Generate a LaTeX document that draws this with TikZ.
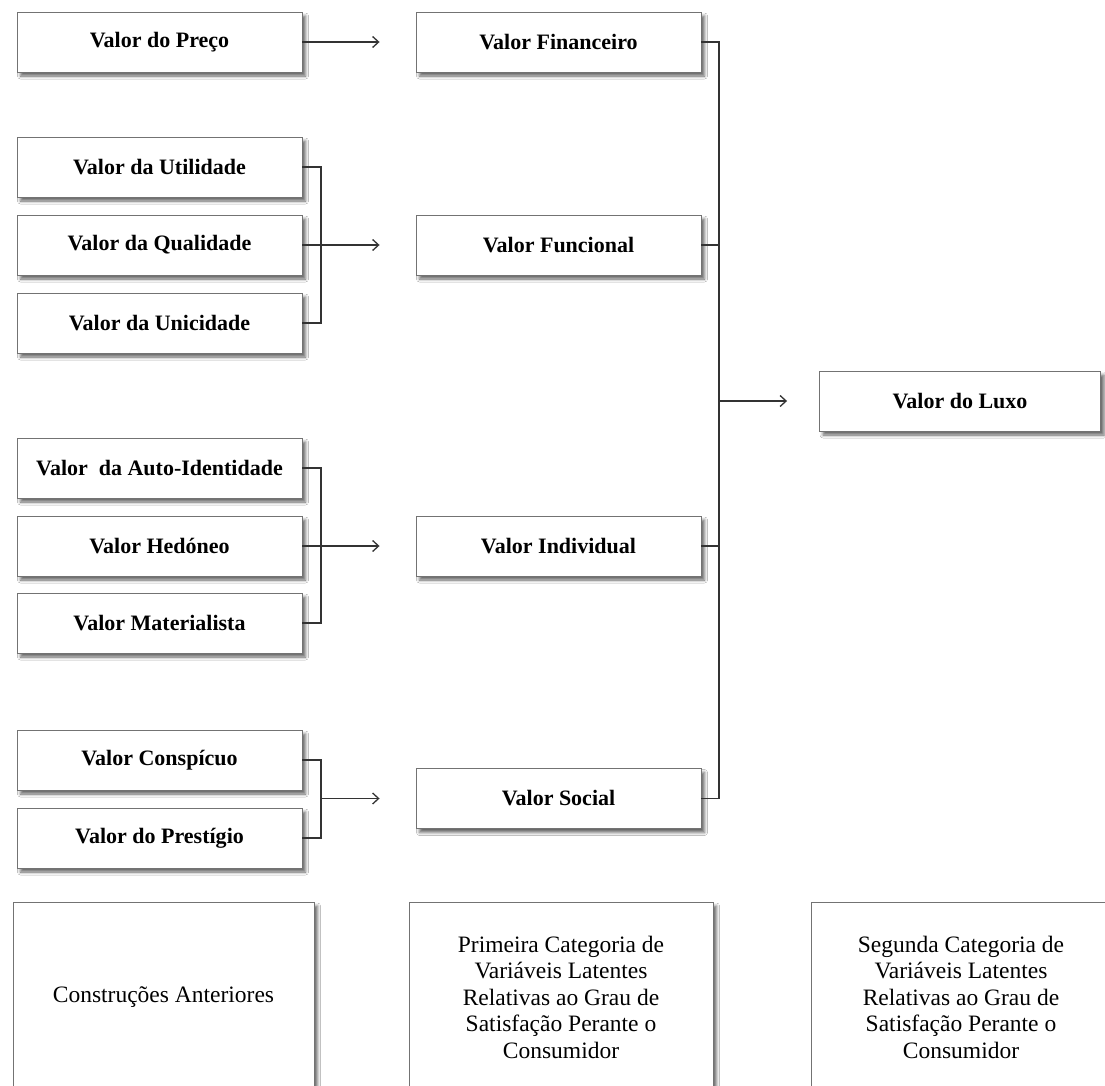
\documentclass[tikz,border=0pt]{standalone}
\usepackage{fontspec}
\setmainfont{Liberation Serif}
\usetikzlibrary{arrows.meta,shadows.blur}

\tikzset{
  boxshadow/.style={blur shadow={shadow xshift=3.5bp, shadow yshift=-4bp,
      shadow blur radius=3bp, shadow opacity=60}},
  valbox/.style={draw=black!55, line width=0.9bp, fill=white, boxshadow,
      minimum width=285bp, minimum height=60bp, inner sep=0pt,
      font=\fontsize{22bp}{26bp}\selectfont\bfseries},
  catbox/.style={draw=black!55, line width=0.9bp, fill=white, boxshadow,
      minimum height=190bp, inner sep=0pt, align=center,
      font=\fontsize{23.5bp}{26.5bp}\selectfont},
  link/.style={draw=black!80, line width=1.3bp},
  arr/.style={link, -{Straight Barb[length=6bp,width=11bp,line width=1.3bp]}},
}

\begin{document}
\begin{tikzpicture}[x=1bp, y=-1bp]
\clip (0,0) rectangle (1105,1086);
\fill[white] (0,0) rectangle (1105,1086);

% antecedent constructs
\node[valbox] (preco) at (159.5,42)  {Valor do Preço};
\node[valbox] (util)  at (159.5,167) {Valor da Utilidade};
\node[valbox] (qual)  at (159.5,245) {Valor da Qualidade};
\node[valbox] (unic)  at (159.5,323) {Valor da Unicidade};
\node[valbox] (auto)  at (159.5,468) {Valor ~da Auto-Identidade};
\node[valbox] (hedo)  at (159.5,546) {Valor Hedóneo};
\node[valbox] (mate)  at (159.5,623) {Valor Materialista};
\node[valbox] (consp) at (159.5,760) {Valor Conspícuo};
\node[valbox] (prest) at (159.5,838) {Valor do Prestígio};

% first-order latent variables
\node[valbox] (fin)  at (558.5,42)  {Valor Financeiro};
\node[valbox] (func) at (558.5,245) {Valor Funcional};
\node[valbox] (ind)  at (558.5,546) {Valor Individual};
\node[valbox] (soc)  at (558.5,798.5) {Valor Social};

% second-order latent variable
\node[valbox, minimum width=281bp] (luxo) at (960,401) {Valor do Luxo};

% column captions
\node[catbox, minimum width=301bp] (capA) at (163.5,997) {Construções Anteriores};
\node[catbox, minimum width=304bp] (capB) at (561,997)
  {Primeira Categoria de\\Variáveis Latentes\\Relativas ao Grau de\\Satisfação Perante o\\Consumidor};
\node[catbox, minimum width=300bp] (capC) at (961,997)
  {Segunda Categoria de\\Variáveis Latentes\\Relativas ao Grau de\\Satisfação Perante o\\Consumidor};

% bracket and bus positions
\coordinate (bk) at (321,0);
\coordinate (bus) at (719,0);

% price -> financial
\draw[arr, shorten >=36bp] (preco.east) -- (fin.west);

% functional group
\draw[link] (util.east) -- (util.east -| bk) -- (unic.east -| bk) -- (unic.east);
\draw[arr, shorten >=36bp] (qual.east) -- (func.west);

% individual group
\draw[link] (auto.east) -- (auto.east -| bk) -- (mate.east -| bk) -- (mate.east);
\draw[arr, shorten >=36bp] (hedo.east) -- (ind.west);

% social group
\draw[link] (consp.east) -- (consp.east -| bk) -- (prest.east -| bk) -- (prest.east);
\draw[arr, shorten >=36bp] (soc.west -| bk) -- (soc.west);

% first-order -> luxury
\draw[link] (fin.east) -- (fin.east -| bus) -- (soc.east -| bus) -- (soc.east);
\draw[link] (func.east) -- (func.east -| bus);
\draw[link] (ind.east) -- (ind.east -| bus);
\draw[arr, shorten >=32bp] (luxo.west -| bus) -- (luxo.west);
\end{tikzpicture}
\end{document}
